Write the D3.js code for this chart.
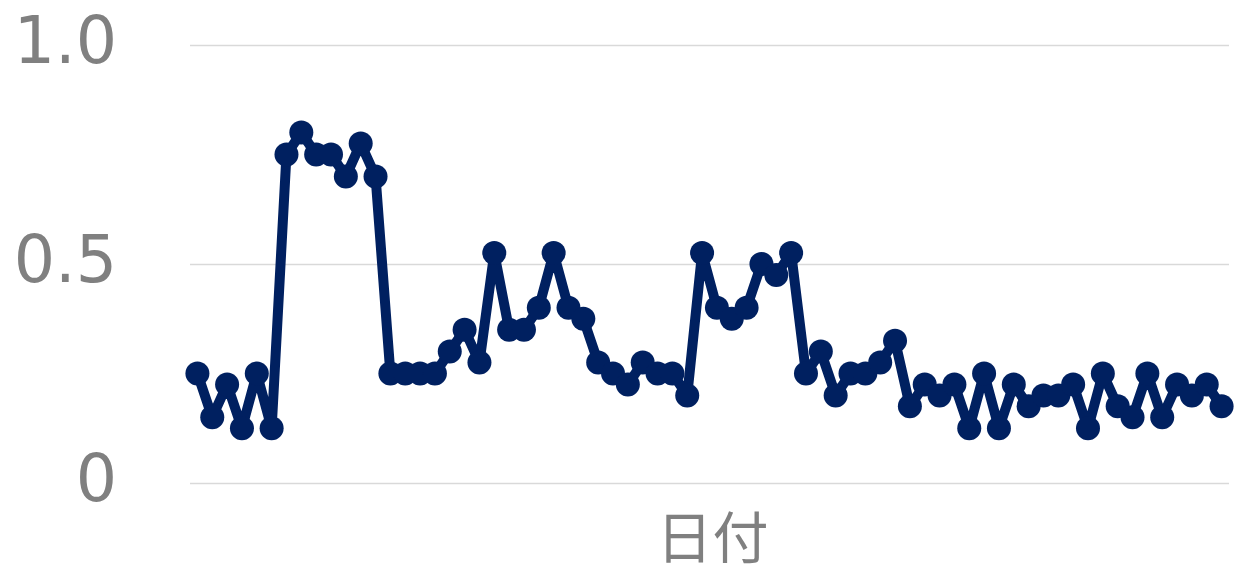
<!DOCTYPE html>
<html>
<head>
<meta charset="utf-8">
<script src="https://cdn.jsdelivr.net/npm/d3@7"></script>
<style>
  html, body { margin: 0; padding: 0; background: #ffffff; }
  svg { display: block; }
</style>
</head>
<body>
<svg id="chart" width="1236" height="573"></svg>
<script>
// Daily series (one value per day)
const days = d3.range(1, 71).map(d => "Day " + d);
const values = [
  0.25, 0.15, 0.225, 0.125, 0.25, 0.125, 0.75, 0.8, 0.75, 0.75,
  0.7, 0.775, 0.7, 0.25, 0.25, 0.25, 0.25, 0.3, 0.35, 0.275,
  0.525, 0.35, 0.35, 0.4, 0.525, 0.4, 0.375, 0.275, 0.25, 0.225,
  0.275, 0.25, 0.25, 0.2, 0.525, 0.4, 0.375, 0.4, 0.5, 0.475,
  0.525, 0.25, 0.3, 0.2, 0.25, 0.25, 0.275, 0.325, 0.175, 0.225,
  0.2, 0.225, 0.125, 0.25, 0.125, 0.225, 0.175, 0.2, 0.2, 0.225,
  0.125, 0.25, 0.175, 0.15, 0.25, 0.15, 0.225, 0.2, 0.225, 0.175
];
const yTicks = [0, 0.5, 1.0];
const yTickLabels = ["0", "0.5", "1.0"];
const xTitle = "日付";

const svg = d3.select("#chart");
const plot = { left: 190, right: 1229, top: 45, bottom: 483 };

const x = d3.scalePoint()
  .domain(days)
  .range([plot.left, plot.right])
  .padding(0.5);

const y = d3.scaleLinear()
  .domain([0, 1])
  .range([plot.bottom, plot.top]);

// Horizontal gridlines and value labels
const yAxis = d3.axisLeft(y)
  .tickValues(yTicks)
  .tickSize(-(plot.right - plot.left))
  .tickFormat((d, i) => yTickLabels[i]);

const gy = svg.append("g")
  .attr("transform", `translate(${plot.left},0)`)
  .call(yAxis);
gy.select(".domain").remove();
gy.selectAll(".tick line")
  .attr("stroke", "#d9d9d9")
  .attr("stroke-width", 1.5);
gy.selectAll(".tick text")
  .attr("x", -73)
  .attr("dy", "0.27em")
  .attr("fill", "#808080")
  .style("font-family", "'DejaVu Sans', Verdana, sans-serif")
  .style("font-size", "65px");

// Line
const line = d3.line()
  .x((d, i) => x(days[i]))
  .y(d => y(d));

svg.append("path")
  .datum(values)
  .attr("d", line)
  .attr("fill", "none")
  .attr("stroke", "#002060")
  .attr("stroke-width", 10)
  .attr("stroke-linejoin", "round");

// Markers
svg.append("g")
  .selectAll("circle")
  .data(values)
  .join("circle")
  .attr("cx", (d, i) => x(days[i]))
  .attr("cy", d => y(d))
  .attr("r", 12)
  .attr("fill", "#002060");

// X axis title
svg.append("text")
  .attr("x", (plot.left + plot.right) / 2 + 3)
  .attr("y", 558)
  .attr("text-anchor", "middle")
  .attr("fill", "#808080")
  .style("font-family", "'Noto Sans CJK JP', sans-serif")
  .style("font-size", "56px")
  .text(xTitle);
</script>
</body>
</html>
